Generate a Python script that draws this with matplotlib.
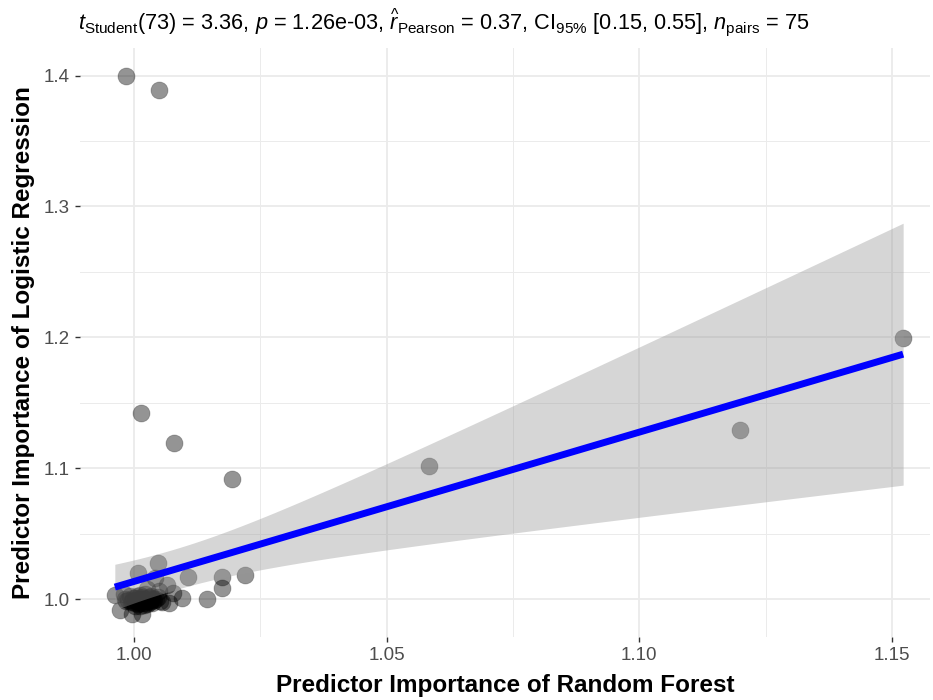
import numpy as np
import matplotlib
matplotlib.use("Agg")
import matplotlib.pyplot as plt
from matplotlib.ticker import MultipleLocator

plt.rcParams['font.family'] = ['Liberation Sans', 'DejaVu Sans']
plt.rcParams['mathtext.fontset'] = 'custom'
plt.rcParams['mathtext.rm'] = 'Liberation Sans'
plt.rcParams['mathtext.it'] = 'Liberation Sans:italic'
plt.rcParams['mathtext.bf'] = 'Liberation Sans:bold'

# importance values (rf = x, lr = y)
# far points
rf_far = [0.9984, 1.0050, 1.0014, 1.0079, 1.0194, 1.0583, 1.1200, 1.1522]
lr_far = [1.4000, 1.3890, 1.1420, 1.1190, 1.0920, 1.1020, 1.1290, 1.1992]
# points just right of the main cluster
rf_near = [1.0107, 1.0174, 1.0174, 1.0220, 1.0144, 1.0095,
           1.0047, 1.0008, 1.0042, 1.0065, 1.0077, 0.9962, 0.9972,
           0.9996, 1.0016, 1.0055, 1.0070, 1.0025, 0.9980, 1.0050]
lr_near = [1.0170, 1.0170, 1.0086, 1.0186, 1.0002, 1.0010,
           1.0277, 1.0200, 1.0160, 1.0110, 1.0050, 1.0030, 0.9920,
           0.9885, 0.9885, 0.9980, 0.9970, 1.0080, 1.0040, 1.0060]
# dense cluster around (1, 1)
rf_core = [0.9995, 1.0005, 1.0010, 1.0012, 1.0015, 1.0018, 1.0020, 1.0024,
           1.0026, 1.0028, 1.0032, 1.0034, 1.0038, 1.0008, 1.0001, 0.9994,
           0.9988, 1.0002, 1.0007, 1.0013, 1.0017, 1.0023, 1.0030, 1.0036,
           1.0040, 1.0044, 1.0011, 1.0019, 1.0026, 1.0036, 0.9985, 0.9982,
           1.0004, 1.0009, 1.0014, 1.0021, 1.0029, 1.0016, 1.0006, 0.9997,
           1.0033, 1.0048, 1.0052, 1.0012, 1.0022, 0.9992, 1.0001]
lr_core = [0.9990, 0.9985, 0.9975, 0.9995, 0.9970, 0.9988, 0.9992, 0.9975,
           0.9985, 0.9998, 0.9978, 0.9990, 1.0005, 0.9962, 0.9968, 0.9978,
           0.9995, 1.0008, 1.0012, 1.0005, 1.0002, 1.0008, 1.0015, 1.0010,
           0.9992, 1.0004, 0.9950, 0.9958, 0.9965, 0.9975, 0.9985, 1.0005,
           0.9998, 0.9992, 0.9985, 0.9998, 0.9988, 1.0020, 1.0022, 1.0012,
           1.0025, 1.0015, 0.9985, 1.0035, 1.0040, 1.0025, 0.9945]

x = np.array(rf_far + rf_near + rf_core)
y = np.array(lr_far + lr_near + lr_core)

title = (r"$t_{\mathrm{Student}}$(73) = 3.36, $p$ = 1.26e-03, "
         r"$\widehat{r}_{\mathrm{Pearson}}$ = 0.37, CI$_{\mathrm{95\%}}$ [0.15, 0.55], "
         r"$n_{\mathrm{pairs}}$ = 75")

# linear fit with 95% band
n = len(x)
slope, intercept = np.polyfit(x, y, 1)
resid = y - (slope * x + intercept)
s = np.sqrt(np.sum(resid ** 2) / (n - 2))
sxx = np.sum((x - x.mean()) ** 2)
t_crit = 1.993  # t(0.975, df=73)
xs = np.linspace(x.min(), x.max(), 100)
ys = slope * xs + intercept
se = s * np.sqrt(1 / n + (xs - x.mean()) ** 2 / sxx)

fig = plt.figure(figsize=(9.33, 7.0), dpi=100)
ax = fig.add_axes([0.0857, 0.09, 0.911, 0.841])

ax.scatter(x, y, s=150, color=(0, 0, 0, 0.42), edgecolors=(0, 0, 0, 0.25),
           linewidths=0.6, zorder=2)
ax.fill_between(xs, ys - t_crit * se, ys + t_crit * se, color='#999999',
                alpha=0.4, linewidth=0, zorder=3)
ax.plot(xs, ys, color='#0000FF', lw=5, zorder=4, solid_capstyle='butt')

ax.set_xlim(0.9893, 1.1575)
ax.set_ylim(0.9712, 1.4208)
ax.xaxis.set_minor_locator(MultipleLocator(0.025))
ax.yaxis.set_minor_locator(MultipleLocator(0.05))
ax.set_xticks([1.00, 1.05, 1.10, 1.15], ["1.00", "1.05", "1.10", "1.15"])
ax.set_yticks([1.0, 1.1, 1.2, 1.3, 1.4], ["1.0", "1.1", "1.2", "1.3", "1.4"])

ax.grid(which='major', color='#EBEBEB', lw=1.3, zorder=0)
ax.grid(which='minor', color='#EBEBEB', lw=0.7, zorder=0)
ax.set_axisbelow(True)
for sp in ax.spines.values():
    sp.set_visible(False)
ax.tick_params(which='major', length=3.5, width=1, color='#333333',
               labelsize=13.5, labelcolor='#4D4D4D', pad=4)
ax.tick_params(which='minor', length=0)

ax.set_xlabel("Predictor Importance of Random Forest", fontsize=17.5,
              fontweight='bold', labelpad=7)
ax.set_ylabel("Predictor Importance of Logistic Regression", fontsize=17.5,
              fontweight='bold', labelpad=6)

fig.text(78 / 933, 1 - 22 / 700, title, fontsize=15.7, va='center', ha='left')

fig.savefig("out.png", dpi=100)
